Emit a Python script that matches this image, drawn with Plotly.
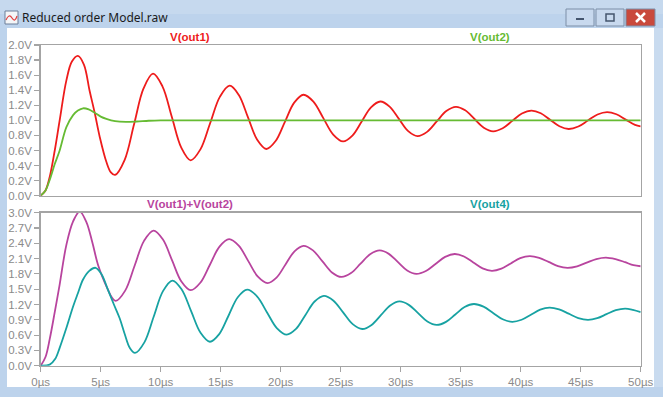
import plotly.graph_objects as go

# ---------------- data ----------------
red_t = [0, 0.4, 0.75, 1.17, 1.58, 2.14, 2.6, 3.1, 3.6, 4.08, 4.5, 4.92, 5.47, 5.85, 6.2,
         6.99, 7.78, 8.57, 9.36,
         10.145, 10.93, 11.715, 12.5,
         13.31, 14.125, 14.94, 15.75,
         16.51, 17.275, 18.04, 18.8,
         19.575, 20.35, 21.125, 21.9,
         22.725, 23.55, 24.375, 25.2,
         25.975, 26.75, 27.525, 28.3,
         29.075, 29.85, 30.625, 31.4,
         32.2, 33.0, 33.8, 34.6,
         35.375, 36.15, 36.925, 37.7,
         38.5, 39.3, 40.1, 40.9,
         41.675, 42.45, 43.225, 44.0,
         44.8, 45.6, 46.4, 47.2,
         47.975, 48.75, 49.525, 50]
red_v = [0, 0.07, 0.25, 0.6, 1.0, 1.53, 1.78, 1.855, 1.74, 1.39, 1.10, 0.78, 0.45, 0.31, 0.276,
         0.473, 0.948, 1.423, 1.62,
         1.452, 1.045, 0.638, 0.47,
         0.615, 0.965, 1.315, 1.46,
         1.337, 1.04, 0.743, 0.62,
         0.725, 0.98, 1.235, 1.34,
         1.249, 1.03, 0.811, 0.72,
         0.798, 0.985, 1.172, 1.25,
         1.183, 1.02, 0.857, 0.79,
         0.847, 0.985, 1.123, 1.18,
         1.133, 1.018, 0.903, 0.855,
         0.895, 0.993, 1.091, 1.13,
         1.095, 1.008, 0.921, 0.885,
         0.918, 0.998, 1.078, 1.11,
         1.081, 1.01, 0.939, 0.92]

green_t = [0, 0.4, 0.75, 1.17, 1.58, 2.14, 2.7, 3.1, 3.53, 4.0, 4.5, 5.0, 5.47, 6.2, 7.1,
           8.0, 9.0, 10.0, 12.0, 20.0, 30.0, 40.0, 50.0]
green_v = [0, 0.07, 0.21, 0.42, 0.6, 0.91, 1.07, 1.13, 1.16, 1.145, 1.10, 1.05, 1.02, 0.99, 0.98,
           0.985, 0.995, 1.0, 1.0, 1.0, 1.0, 1.0, 1.0]

mag_t = [0, 0.4, 0.75, 1.17, 1.58, 2.14, 2.7, 3.25, 3.8, 4.3, 4.8, 5.6, 5.95, 6.25,
         7.04, 7.825, 8.61, 9.4,
         10.175, 10.95, 11.725, 12.5,
         13.3, 14.1, 14.9, 15.7,
         16.5, 17.3, 18.1, 18.9,
         19.65, 20.4, 21.15, 21.9,
         22.69, 23.48, 24.27, 25.06,
         25.86, 26.655, 27.45, 28.25,
         29.01, 29.775, 30.54, 31.3,
         32.1, 32.9, 33.7, 34.5,
         35.275, 36.05, 36.825, 37.6,
         38.39, 39.175, 39.96, 40.75,
         41.54, 42.325, 43.11, 43.9,
         44.7, 45.5, 46.3, 47.1,
         47.9, 48.7, 49.4, 50]
mag_v = [0, 0.17, 0.52, 1.05, 1.59, 2.37, 2.83, 3.02, 2.82, 2.42, 1.96, 1.49, 1.33, 1.27,
         1.472, 1.96, 2.448, 2.65,
         2.479, 2.065, 1.651, 1.48,
         1.626, 1.98, 2.334, 2.48,
         2.354, 2.05, 1.746, 1.62,
         1.727, 1.985, 2.243, 2.35,
         2.261, 2.045, 1.829, 1.74,
         1.816, 2.0, 2.184, 2.26,
         2.193, 2.03, 1.867, 1.80,
         1.857, 1.995, 2.133, 2.19,
         2.142, 2.025, 1.908, 1.86,
         1.902, 2.005, 2.108, 2.15,
         2.116, 2.035, 1.954, 1.92,
         1.949, 2.02, 2.091, 2.12,
         2.09, 2.03, 1.97, 1.95]

teal_t = [0, 0.75, 1.2, 1.58, 2.14, 2.7, 3.1, 3.53, 4.05, 4.58, 5.1, 5.6, 6.1, 6.58, 7.0, 7.42, 7.86,
          8.64, 9.415, 10.19, 10.97,
          11.75, 12.535, 13.32, 14.1,
          14.875, 15.65, 16.425, 17.2,
          18.025, 18.85, 19.675, 20.5,
          21.275, 22.05, 22.825, 23.6,
          24.4, 25.2, 26.0, 26.8,
          27.575, 28.35, 29.125, 29.9,
          30.675, 31.45, 32.225, 33.0,
          33.775, 34.55, 35.325, 36.1,
          36.9, 37.7, 38.5, 39.3,
          40.075, 40.85, 41.625, 42.4,
          43.2, 44.0, 44.8, 45.6,
          46.375, 47.15, 47.925, 48.7,
          49.35, 50]
teal_v = [0, 0.02, 0.13, 0.35, 0.74, 1.16, 1.42, 1.69, 1.86, 1.92, 1.78, 1.49, 1.2, 0.93, 0.62, 0.35, 0.25,
          0.458, 0.96, 1.462, 1.67,
          1.494, 1.07, 0.646, 0.47,
          0.619, 0.98, 1.341, 1.49,
          1.361, 1.05, 0.739, 0.61,
          0.721, 0.99, 1.259, 1.37,
          1.275, 1.045, 0.815, 0.72,
          0.799, 0.99, 1.181, 1.26,
          1.193, 1.03, 0.867, 0.80,
          0.860, 1.005, 1.15, 1.21,
          1.159, 1.035, 0.911, 0.86,
          0.901, 1.0, 1.099, 1.14,
          1.105, 1.02, 0.935, 0.90,
          0.932, 1.01, 1.088, 1.12,
          1.095, 1.05]

trace_names = ["V(out1)", "V(out2)", "V(out1)+V(out2)", "V(out4)"]
window_title = "Reduced order Model.raw"

# ---------------- styling ----------------
W, H = 663, 397
RED, GREEN, MAG, TEAL = "#ee1c1c", "#66bb33", "#b8449e", "#17a2a2"
FRAME = "#a4a4a4"
TICKC = "#8a8a8a"


def px(x):
    return x / W


def py(y):
    return 1 - y / H


fig = go.Figure()
line_kw = dict(shape="spline", smoothing=1.0, width=1.8)
fig.add_trace(go.Scatter(x=red_t, y=red_v, mode="lines", line=dict(color=RED, **line_kw),
                         xaxis="x", yaxis="y", name=trace_names[0]))
fig.add_trace(go.Scatter(x=green_t, y=green_v, mode="lines", line=dict(color=GREEN, **line_kw),
                         xaxis="x", yaxis="y", name=trace_names[1]))
fig.add_trace(go.Scatter(x=mag_t, y=mag_v, mode="lines", line=dict(color=MAG, **line_kw),
                         xaxis="x2", yaxis="y2", name=trace_names[2]))
fig.add_trace(go.Scatter(x=teal_t, y=teal_v, mode="lines", line=dict(color=TEAL, **line_kw),
                         xaxis="x2", yaxis="y2", name=trace_names[3]))

xdom = [px(40.7), px(640.7)]
tickfont = dict(family="Liberation Sans, Arial", size=11.5, color=TICKC)
axis_common = dict(showgrid=False, zeroline=False, showline=True, mirror=True,
                   linecolor=FRAME, linewidth=1.5, automargin=False)

fig.update_layout(
    width=W, height=H,
    margin=dict(l=0, r=0, t=0, b=0, autoexpand=False),
    paper_bgcolor="#bdd3ec",
    plot_bgcolor="white",
    showlegend=False,
    hovermode=False,
    xaxis=dict(domain=xdom, range=[0, 50], anchor="y", showticklabels=False, ticks="",
               **axis_common),
    yaxis=dict(domain=[py(195.7), py(45)], range=[0, 2], anchor="x", dtick=0.2, tick0=0,
               tickformat=".1f", ticksuffix="V", ticks="outside", ticklen=5, tickcolor=FRAME,
               tickwidth=1.2, tickfont=tickfont, **axis_common),
    xaxis2=dict(domain=xdom, range=[0, 50], anchor="y2", dtick=5, tick0=0, ticksuffix="µs",
                ticks="outside", ticklen=5, tickcolor=FRAME, tickwidth=1.2, tickfont=tickfont,
                **axis_common),
    yaxis2=dict(domain=[py(365.7), py(212.7)], range=[0, 3], anchor="x2", dtick=0.3, tick0=0,
                tickformat=".1f", ticksuffix="V", ticks="outside", ticklen=5, tickcolor=FRAME,
                tickwidth=1.2, tickfont=tickfont, **axis_common),
)

shapes = []
# white client area
shapes.append(dict(type="rect", xref="paper", yref="paper", x0=px(7), x1=px(654), y0=py(387), y1=py(28),
                   fillcolor="white", line=dict(width=0), layer="below"))
# title bar lighter top
shapes.append(dict(type="rect", xref="paper", yref="paper", x0=0, x1=1, y0=py(14), y1=1,
                   fillcolor="#c6d9ee", line=dict(width=0), layer="below"))
# right scroll strip
shapes.append(dict(type="rect", xref="paper", yref="paper", x0=px(654), x1=px(663), y0=py(387), y1=py(28),
                   fillcolor="#c9dbef", line=dict(width=0), layer="below"))
# window buttons
for x0, x1, col in [(566, 594, "#c8d9ee"), (596, 624, "#c8d9ee"), (626, 655, "#c9493c")]:
    shapes.append(dict(type="rect", xref="paper", yref="paper", x0=px(x0), x1=px(x1), y0=py(26), y1=py(9),
                       fillcolor=col, line=dict(color="#7d8fa8", width=1), layer="above"))
# minimize glyph
shapes.append(dict(type="rect", xref="paper", yref="paper", x0=px(576), x1=px(584), y0=py(20), y1=py(18),
                   fillcolor="#44556e", line=dict(width=0)))
# maximize glyph
shapes.append(dict(type="rect", xref="paper", yref="paper", x0=px(606), x1=px(614), y0=py(21), y1=py(14),
                   fillcolor="rgba(0,0,0,0)", line=dict(color="#44556e", width=1.5)))
# close glyph
shapes.append(dict(type="line", xref="paper", yref="paper", x0=px(636), x1=px(645), y0=py(13), y1=py(22),
                   line=dict(color="white", width=2.5)))
shapes.append(dict(type="line", xref="paper", yref="paper", x0=px(636), x1=px(645), y0=py(22), y1=py(13),
                   line=dict(color="white", width=2.5)))
# window icon
shapes.append(dict(type="rect", xref="paper", yref="paper", x0=px(5), x1=px(18), y0=py(24), y1=py(11),
                   fillcolor="#f4f6f8", line=dict(color="#6d7f99", width=1)))
shapes.append(dict(type="path", xref="paper", yref="paper",
                   path=f"M {px(6)},{py(20)} Q {px(9)},{py(13)} {px(12)},{py(18)} T {px(17)},{py(16)}",
                   line=dict(color="#e04040", width=1.2)))
fig.update_layout(shapes=shapes)

lab_font = "Liberation Sans, Arial"
annotations = [
    dict(text=window_title, x=px(20), y=py(18), xanchor="left", yanchor="middle",
         font=dict(family="Noto Sans, DejaVu Sans", size=12, color="#1b1b1b")),
    dict(text="<b>" + trace_names[0] + "</b>", x=px(190), y=py(36.5), xanchor="center", yanchor="middle",
         font=dict(family=lab_font, size=11.5, color=RED)),
    dict(text="<b>" + trace_names[1] + "</b>", x=px(490), y=py(36.5), xanchor="center", yanchor="middle",
         font=dict(family=lab_font, size=11.5, color=GREEN)),
    dict(text="<b>" + trace_names[2] + "</b>", x=px(190), y=py(204), xanchor="center", yanchor="middle",
         font=dict(family=lab_font, size=11.5, color=MAG)),
    dict(text="<b>" + trace_names[3] + "</b>", x=px(490), y=py(204), xanchor="center", yanchor="middle",
         font=dict(family=lab_font, size=11.5, color=TEAL)),
]
for a in annotations:
    a.update(xref="paper", yref="paper", showarrow=False)
fig.update_layout(annotations=annotations)

fig.write_html("out.html",
               config={"displayModeBar": False, "staticPlot": True},
               post_script="document.body.style.margin='0';document.body.style.overflow='hidden';")
